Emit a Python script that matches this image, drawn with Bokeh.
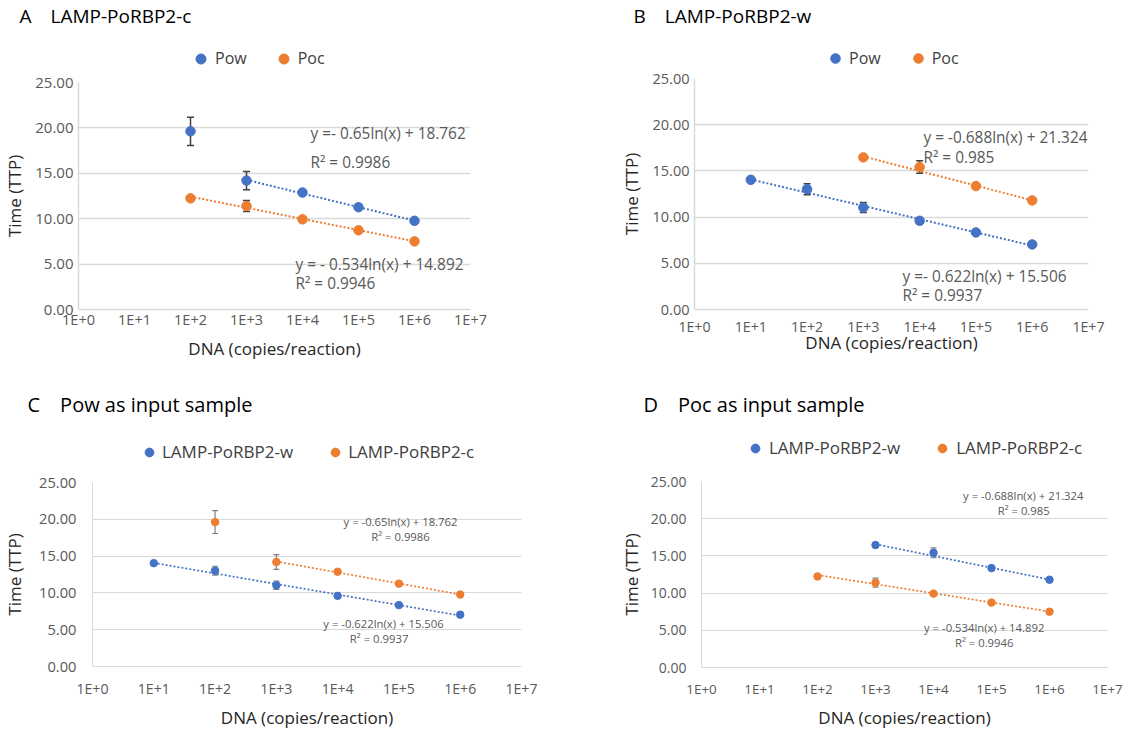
import math
import json
from bokeh.plotting import figure
from bokeh.layouts import column, row
from bokeh.models import (Range1d, FixedTicker, CustomJSTickFormatter, PrintfTickFormatter,
                          Label, Legend, LegendItem, Title)
from bokeh.embed import file_html
from bokeh.resources import INLINE

FONT = "Open Sans"
BLUE = "#4472C4"
ORANGE = "#ED7D31"

# ---------------- data ----------------
x_tick_values = [1e0, 1e1, 1e2, 1e3, 1e4, 1e5, 1e6, 1e7]
x_tick_labels = ["1E+0", "1E+1", "1E+2", "1E+3", "1E+4", "1E+5", "1E+6", "1E+7"]
y_tick_values = [0, 5, 10, 15, 20, 25]

# LAMP-PoRBP2-c assay
c_pow_copies = [1e2, 1e3, 1e4, 1e5, 1e6]
c_pow_ttp = [19.62, 14.20, 12.88, 11.26, 9.77]
c_pow_sd = [1.55, 1.00, 0.10, 0.10, 0.10]
c_poc_copies = [1e2, 1e3, 1e4, 1e5, 1e6]
c_poc_ttp = [12.24, 11.40, 9.93, 8.72, 7.50]
c_poc_sd = [0.10, 0.60, 0.10, 0.10, 0.10]

# LAMP-PoRBP2-w assay
w_pow_copies = [1e1, 1e2, 1e3, 1e4, 1e5, 1e6]
w_pow_ttp = [14.04, 13.02, 11.04, 9.60, 8.34, 7.04]
w_pow_sd = [0.10, 0.60, 0.55, 0.10, 0.10, 0.10]
w_poc_copies = [1e3, 1e4, 1e5, 1e6]
w_poc_ttp = [16.46, 15.42, 13.36, 11.80]
w_poc_sd = [0.10, 0.67, 0.10, 0.10]

# logarithmic trendlines: slope, intercept, first copies value in the fit
c_pow_fit = [-0.65, 18.762, 1e3]
c_poc_fit = [-0.534, 14.892, 1e2]
w_pow_fit = [-0.622, 15.506, 1e1]
w_poc_fit = [-0.688, 21.324, 1e3]

panel_titles = ["A\u2003LAMP-PoRBP2-c", "B\u2003LAMP-PoRBP2-w",
                "C\u2003Pow as input sample", "D\u2003Poc as input sample"]
eq_a = ["y =- 0.65ln(x) + 18.762", "R\u00b2 = 0.9986", "y = - 0.534ln(x) + 14.892", "R\u00b2 = 0.9946"]
eq_b = ["y = -0.688ln(x) + 21.324", "R\u00b2 = 0.985", "y =- 0.622ln(x) + 15.506", "R\u00b2 = 0.9937"]
eq_c = ["y = -0.65ln(x) + 18.762", "R\u00b2 = 0.9986", "y = -0.622ln(x) + 15.506", "R\u00b2 = 0.9937"]
eq_d = ["y = -0.688ln(x) + 21.324", "R\u00b2 = 0.985", "y = -0.534ln(x) + 14.892", "R\u00b2 = 0.9946"]

x_title = "DNA (copies/reaction)"
y_title = "Time (TTP)"


def draw_series(p, xs, ys, sd, fit, color, st):
    a, b, x0 = fit
    tx = [x for x in xs if x >= x0]
    ty = [a * math.log(x) + b for x in tx]
    p.line(tx, ty, line_color=color, line_width=st["trend_w"], line_dash="2 2")
    lo = [y - e for y, e in zip(ys, sd)]
    hi = [y + e for y, e in zip(ys, sd)]
    p.segment(x0=xs, y0=lo, x1=xs, y1=hi, line_color=st["err_c"], line_width=st["err_w"])
    p.scatter(xs, lo, marker="dash", size=st["cap"], line_color=st["err_c"], line_width=st["err_w"])
    p.scatter(xs, hi, marker="dash", size=st["cap"], line_color=st["err_c"], line_width=st["err_w"])
    p.scatter(xs, ys, size=st["msize"], fill_color=color, line_color=color)


def make_header(g, labels, series, title):
    # strip above the chart: panel title and legend (legend keys use the same series,
    # lying outside this strip's own ranges so only the legend keys show)
    hh = g["ft"] - g["mbt"]
    h = figure(width=g["w"], height=hh, x_range=Range1d(0, 1), y_range=Range1d(0, 1),
               x_axis_location=None, y_axis_location=None, toolbar_location=None,
               output_backend="svg", min_border=0,
               title=Title(text=title, align="left", offset=g["title_dx"], standoff=0,
                           text_font=FONT, text_font_size=g["title_fs"],
                           text_font_style="normal", text_color="#000000"))
    h.outline_line_color = None
    h.grid.visible = False
    h.background_fill_color = "white"
    h.border_fill_color = "white"
    rends = [h.scatter(s[0], s[1], size=10, fill_color=s[4], line_color=s[4]) for s in series]
    legend = Legend(items=[LegendItem(label=lab, renderers=[r]) for lab, r in zip(labels, rends)],
                    location=(g["leg_x"], hh - g["leg_y"] - g["leg_gw"] / 2.0),
                    orientation="horizontal", padding=0, margin=0,
                    spacing=g["leg_sp"], glyph_width=g["leg_gw"], glyph_height=g["leg_gw"],
                    label_height=g["leg_gw"], label_standoff=g["leg_so"],
                    label_text_font=FONT, label_text_font_size=g["leg_fs"],
                    label_text_color="#404040", border_line_color=None,
                    background_fill_alpha=0, inactive_fill_alpha=0)
    h.add_layout(legend)
    return h


def make_panel(g, series, labels, title, eqs):
    hh = g["ft"] - g["mbt"]
    mh = g["h"] - hh
    p = figure(width=g["w"], height=mh, x_axis_type="log",
               x_range=Range1d(1, 1e7), y_range=Range1d(0, 25),
               output_backend="svg", toolbar_location=None, title=None,
               min_border_left=g["fl"], min_border_right=g["w"] - g["fl"] - g["fw"],
               min_border_top=g["mbt"], min_border_bottom=mh - g["mbt"] - g["fh"])
    p.outline_line_color = None
    p.background_fill_color = "white"
    p.border_fill_color = "white"
    p.xgrid.grid_line_color = None
    p.ygrid.ticker = FixedTicker(ticks=y_tick_values, minor_ticks=[])
    p.ygrid.grid_line_color = "#D9D9D9"
    p.ygrid.grid_line_width = g["grid_w"]
    xa = p.xaxis[0]
    ya = p.yaxis[0]
    xa.ticker = FixedTicker(ticks=x_tick_values, minor_ticks=[])
    xa.formatter = CustomJSTickFormatter(
        code="const labels = %s; return labels[Math.round(Math.log10(tick))];" % json.dumps(x_tick_labels))
    ya.ticker = FixedTicker(ticks=y_tick_values, minor_ticks=[])
    ya.formatter = PrintfTickFormatter(format="%.2f")
    for ax in (xa, ya):
        ax.major_tick_line_color = None
        ax.minor_tick_line_color = None
        ax.major_tick_out = 0
        ax.major_tick_in = 0
        ax.minor_tick_out = 0
        ax.minor_tick_in = 0
        ax.axis_line_color = "#D9D9D9"
        ax.axis_line_width = g["grid_w"]
        ax.major_label_text_font = FONT
        ax.major_label_text_color = "#595959"
        ax.axis_label_text_font = FONT
        ax.axis_label_text_font_style = "normal"
        ax.axis_label_text_color = "#262626"
    xa.axis_label = x_title
    ya.axis_label = y_title
    xa.major_label_text_font_size = g["xt_fs"]
    ya.major_label_text_font_size = g["yt_fs"]
    xa.major_label_standoff = g["xt_so"]
    ya.major_label_standoff = g["yt_so"]
    xa.axis_label_text_font_size = g["xl_fs"]
    ya.axis_label_text_font_size = "17px"
    xa.axis_label_standoff = g["xl_so"]
    ya.axis_label_standoff = g["yl_so"]

    for (xs, ys, sd, fit, color) in series:
        draw_series(p, xs, ys, sd, fit, color, g)

    for txt, (lx, ly) in zip(eqs, g["eq_xy"]):
        p.add_layout(Label(x=lx, y=ly, x_units="screen", y_units="screen", text=txt,
                           text_font=FONT, text_font_size=g["eq_fs"], text_color="#595959",
                           text_baseline="middle", text_align=g["eq_align"]))
    header = make_header(g, labels, series, title)
    return column(header, p, spacing=0)


top_style = dict(trend_w=2, err_c="#404040", err_w=1.5, cap=7, msize=9.5, grid_w=1.5)
bot_style = dict(trend_w=1.7, err_c="#7F7F7F", err_w=1.2, cap=6, msize=7.5, grid_w=1)

gA = dict(top_style, w=560, h=388, fl=78, fw=392, ft=82, fh=227, mbt=11,
          xt_fs="14.5px", yt_fs="15px", xt_so=0, yt_so=5, xl_fs="17px", xl_so=5, yl_so=6,
          leg_x=110, leg_y=58, leg_sp=24, leg_gw=25, leg_so=2, leg_fs="16px",
          title_dx=-59, title_fs="19px",
          eq_xy=[(232, 176), (232, 147), (217, 45), (217, 26)], eq_fs="15.4px", eq_align="left")
gB = dict(top_style, w=564, h=388, fl=134, fw=394, ft=78, fh=231, mbt=10,
          xt_fs="14.2px", yt_fs="14.5px", xt_so=7, yt_so=5, xl_fs="17px", xl_so=-8, yl_so=7,
          leg_x=129, leg_y=58, leg_sp=25, leg_gw=24, leg_so=2, leg_fs="16px",
          title_dx=-61, title_fs="19px",
          eq_xy=[(229, 172), (229, 152), (208, 32.6), (208, 14.3)], eq_fs="15.4px", eq_align="left")
gC = dict(bot_style, w=560, h=343, fl=92, fw=429, ft=94, fh=188, mbt=11,
          xt_fs="14.1px", yt_fs="14.7px", xt_so=12, yt_so=16, xl_fs="17px", xl_so=5, yl_so=10,
          leg_x=46, leg_y=64, leg_sp=31, leg_gw=22, leg_so=2, leg_fs="17px",
          title_dx=-65, title_fs="20px",
          eq_xy=[(308, 145.2), (308, 129.9), (291, 43.5), (286.6, 27.9)], eq_fs="11.3px", eq_align="center")
gD = dict(bot_style, w=564, h=343, fl=141, fw=406, ft=93, fh=190, mbt=11,
          xt_fs="13.4px", yt_fs="14px", xt_so=12, yt_so=15, xl_fs="17px", xl_so=5, yl_so=5,
          leg_x=43, leg_y=60.3, leg_sp=31, leg_gw=22, leg_so=3, leg_fs="17px",
          title_dx=-58, title_fs="20px",
          eq_xy=[(321.8, 171.7), (322.2, 156.7), (282.7, 40), (282.7, 25.3)], eq_fs="11.3px", eq_align="center")

pA = make_panel(gA, [(c_pow_copies, c_pow_ttp, c_pow_sd, c_pow_fit, BLUE),
                     (c_poc_copies, c_poc_ttp, c_poc_sd, c_poc_fit, ORANGE)],
                ["Pow", "Poc"], panel_titles[0], eq_a)
pB = make_panel(gB, [(w_pow_copies, w_pow_ttp, w_pow_sd, w_pow_fit, BLUE),
                     (w_poc_copies, w_poc_ttp, w_poc_sd, w_poc_fit, ORANGE)],
                ["Pow", "Poc"], panel_titles[1], eq_b)
pC = make_panel(gC, [(w_pow_copies, w_pow_ttp, w_pow_sd, w_pow_fit, BLUE),
                     (c_pow_copies, c_pow_ttp, c_pow_sd, c_pow_fit, ORANGE)],
                ["LAMP-PoRBP2-w", "LAMP-PoRBP2-c"], panel_titles[2], eq_c)
pD = make_panel(gD, [(w_poc_copies, w_poc_ttp, w_poc_sd, w_poc_fit, BLUE),
                     (c_poc_copies, c_poc_ttp, c_poc_sd, c_poc_fit, ORANGE)],
                ["LAMP-PoRBP2-w", "LAMP-PoRBP2-c"], panel_titles[3], eq_d)

layout = column(row(pA, pB, spacing=0), row(pC, pD, spacing=0), spacing=0)
open("out.html", "w").write(file_html(layout, INLINE))
